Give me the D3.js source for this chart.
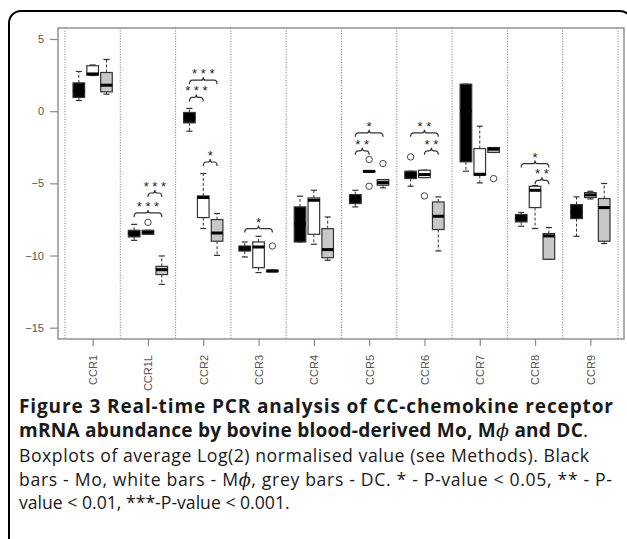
<!DOCTYPE html>
<html><head><meta charset="utf-8">
<script src="https://cdn.jsdelivr.net/npm/d3@7/dist/d3.min.js"></script>
<style>body{margin:0;background:#fff}svg{display:block}</style>
</head><body>
<svg id="chart" width="627" height="539"></svg>
<script>
// ---------------- data ----------------
const categories = ["CCR1","CCR1L","CCR2","CCR3","CCR4","CCR5","CCR6","CCR7","CCR8","CCR9"];
const groups = ["Mo","Mphi","DC"];
const yTicks = [5, 0, -5, -10, -15];
// [lower whisker, Q1, median, Q3, upper whisker] per category
const moStats = [
  [0.74, 0.95, 1.40, 1.96, 2.75],
  [-8.95, -8.71, -8.45, -8.25, -7.84],
  [-1.39, -0.81, -0.45, -0.09, 0.19],
  [-10.10, -9.69, -9.50, -9.34, -9.06],
  [-9.06, -9.06, -7.80, -6.63, -5.89],
  [-6.63, -6.40, -6.10, -5.78, -5.48],
  [-5.20, -4.67, -4.40, -4.16, -4.16],
  [-4.16, -3.51, 0.00, 1.87, 1.87],
  [-7.97, -7.67, -7.40, -7.16, -7.02],
  [-8.67, -7.44, -7.00, -6.47, -5.94]
];
const mphiStats = [
  [2.47, 2.50, 2.58, 3.15, 3.20],
  [-8.53, -8.53, -8.40, -8.25, -8.25],
  [-8.13, -7.37, -5.98, -5.87, -4.32],
  [-11.18, -10.84, -9.41, -9.06, -8.67],
  [-9.22, -8.53, -6.17, -6.01, -5.48],
  [-4.22, -4.22, -4.17, -4.12, -4.12],
  [-4.60, -4.60, -4.39, -4.09, -4.09],
  [-4.97, -4.44, -4.37, -2.59, -1.04],
  [-8.13, -6.68, -5.48, -5.20, -5.15],
  [-6.08, -5.98, -5.80, -5.64, -5.55]
];
const dcStats = [
  [1.18, 1.34, 1.80, 2.68, 3.58],
  [-12.00, -11.32, -10.98, -10.75, -10.03],
  [-9.99, -9.01, -8.44, -7.51, -7.09],
  [-11.12, -11.12, -11.07, -11.02, -11.02],
  [-10.33, -10.15, -9.59, -8.14, -7.33],
  [-5.31, -5.13, -4.95, -4.74, -4.74],
  [-9.68, -8.20, -7.28, -6.29, -5.94],
  [-2.86, -2.86, -2.63, -2.52, -2.52],
  [-10.26, -10.26, -8.64, -8.48, -8.06],
  [-9.17, -9.01, -6.68, -6.05, -5.01]
];
// outliers: [category index, group index, value]
const outliers = [
  [1, 1, -7.70],
  [3, 2, -9.34],
  [5, 1, -3.35], [5, 1, -5.20], [5, 2, -3.63],
  [6, 0, -3.17], [6, 1, -5.87],
  [7, 2, -4.67]
];
// significance brackets: [category index, from group, to group, level, label]
const brackets = [
  [1, 0, 2, -7.05, "***"], [1, 1, 2, -5.67, "***"],
  [2, 0, 1, 0.95, "***"], [2, 0, 2, 2.15, "***"], [2, 1, 2, -3.52, "*"],
  [3, 0, 2, -8.13, "*"],
  [5, 0, 1, -2.75, "**"], [5, 0, 2, -1.50, "*"],
  [6, 0, 2, -1.50, "**"], [6, 1, 2, -2.75, "**"],
  [8, 0, 2, -3.63, "*"], [8, 1, 2, -4.79, "**"]
];
const allStats = [moStats, mphiStats, dcStats];

// ---------------- styles ----------------
const fills = ["#000000", "#ffffff", "#c8c8c8"];
const axisGrey = "#8a8a8a";
const textGrey = "#555555";
const sans = "'Liberation Sans', Arial, sans-serif";

const svg = d3.select("#chart");

// outer rounded frame
svg.append("rect").attr("x", 9).attr("y", 11).attr("width", 623).attr("height", 560)
  .attr("rx", 12).attr("fill", "none").attr("stroke", "#000").attr("stroke-width", 2);

const x = d3.scaleLinear().domain([0.5, 10.5]).range([65, 618]);
const y = d3.scaleLinear().domain([5, -15]).range([39, 327.7]);
const plotL = 58, plotR = 624, plotT = 28, plotB = 339;
const groupOffset = [-0.25, 0, 0.25];
const halfBox = 0.105, halfCap = 0.055;

// separators
svg.append("g").selectAll("line").data(d3.range(0, 11)).join("line")
  .attr("x1", d => x(0.5 + d)).attr("x2", d => x(0.5 + d))
  .attr("y1", plotT).attr("y2", plotB)
  .attr("stroke", "#777").attr("stroke-width", 1).attr("stroke-dasharray", "1,1.6");

// plot frame
svg.append("rect").attr("x", plotL).attr("y", plotT).attr("width", plotR - plotL).attr("height", plotB - plotT)
  .attr("fill", "none").attr("stroke", axisGrey).attr("stroke-width", 1.4);

// y axis
const yAx = svg.append("g").attr("transform", `translate(${plotL},0)`)
  .call(d3.axisLeft(y).tickValues(yTicks).tickSize(8).tickPadding(6).tickFormat(d3.format("d")));
yAx.select(".domain").remove();
yAx.selectAll("line").attr("stroke", axisGrey).attr("stroke-width", 1.2);
yAx.selectAll("text").attr("fill", textGrey).style("font-family", sans).style("font-size", "11px");

// x axis
const xAx = svg.append("g").attr("transform", `translate(0,${plotB})`)
  .call(d3.axisBottom(x).tickValues(d3.range(1, 11)).tickSize(7).tickFormat(i => categories[i - 1]));
xAx.select(".domain").remove();
xAx.selectAll("line").attr("stroke", axisGrey).attr("stroke-width", 1.2);
xAx.selectAll("text").attr("fill", textGrey).style("font-family", sans).style("font-size", "11px")
  .attr("text-anchor", "end").attr("transform", "rotate(-90)")
  .attr("x", -16).attr("y", 0).attr("dy", "0.35em");

// boxes
const boxG = svg.append("g");
allStats.forEach((stats, g) => {
  stats.forEach((s, i) => {
    const c = i + 1 + groupOffset[g];
    const [lo, q1, md, q3, hi] = s;
    const gg = boxG.append("g");
    [[q3, hi], [q1, lo]].forEach(([a, b]) => {
      if (a !== b) gg.append("line").attr("x1", x(c)).attr("x2", x(c)).attr("y1", y(a)).attr("y2", y(b))
        .attr("stroke", "#333").attr("stroke-width", 1).attr("stroke-dasharray", "3,2");
    });
    [hi, lo].forEach(v => gg.append("line").attr("x1", x(c - halfCap)).attr("x2", x(c + halfCap))
      .attr("y1", y(v)).attr("y2", y(v)).attr("stroke", "#333").attr("stroke-width", 1.2));
    gg.append("rect").attr("x", x(c - halfBox)).attr("width", x(c + halfBox) - x(c - halfBox))
      .attr("y", y(q3)).attr("height", Math.max(y(q1) - y(q3), 1.5))
      .attr("fill", fills[g]).attr("stroke", "#333").attr("stroke-width", 1.2);
    gg.append("line").attr("x1", x(c - halfBox)).attr("x2", x(c + halfBox))
      .attr("y1", y(md)).attr("y2", y(md)).attr("stroke", "#000").attr("stroke-width", 3);
  });
});

// outliers
svg.append("g").selectAll("circle").data(outliers).join("circle")
  .attr("cx", d => x(d[0] + 1 + groupOffset[d[1]])).attr("cy", d => y(d[2])).attr("r", 3.2)
  .attr("fill", "none").attr("stroke", "#444").attr("stroke-width", 1);

// brackets
const brG = svg.append("g");
brackets.forEach(([ci, g1, g2, lvl, lab]) => {
  const x1 = x(ci + 1 + groupOffset[g1]), x2 = x(ci + 1 + groupOffset[g2]);
  const yy = y(lvl), xm = (x1 + x2) / 2;
  const p = `M${x1},${yy + 4} Q${x1},${yy} ${x1 + 3},${yy} L${xm - 2},${yy} Q${xm},${yy} ${xm},${yy - 3} ` +
            `Q${xm},${yy} ${xm + 2},${yy} L${x2 - 3},${yy} Q${x2},${yy} ${x2},${yy + 4}`;
  brG.append("path").attr("d", p).attr("fill", "none").attr("stroke", "#333").attr("stroke-width", 1.2);
  brG.append("text").attr("x", xm).attr("y", yy - 2).attr("text-anchor", "middle")
    .style("font-family", sans).style("font-size", "13px").attr("fill", "#222")
    .text(lab.split("").join(" "));
});

// ---------------- caption ----------------
const capX = 19;
const capFont = "'Open Sans', 'Noto Sans', sans-serif";
function addLine(yb, parts, size) {
  const t = svg.append("text").attr("x", capX).attr("y", yb).style("font-family", capFont)
    .style("font-size", size + "px").attr("fill", "#1a1a1a");
  parts.forEach(p => {
    const ts = t.append("tspan").text(p.t).style("font-weight", p.b ? 700 : 400);
    if (p.i) ts.style("font-style", "italic").style("font-family", "'DejaVu Serif', serif");
  });
  return t;
}
const capLines = [
  {y: 413, parts: [{t: "Figure 3 Real-time PCR analysis of CC-chemokine receptor", b: 1}], w: 594, title: 1},
  {y: 437, parts: [{t: "mRNA abundance by bovine blood-derived Mo, M", b: 1}, {t: "ϕ", i: 1}, {t: " and DC", b: 1}, {t: "."}], w: 569, title: 1},
  {y: 462, parts: [{t: "Boxplots of average Log(2) normalised value (see Methods). Black"}], w: 570, title: 0},
  {y: 486, parts: [{t: "bars - Mo, white bars - M"}, {t: "ϕ", i: 1}, {t: ", grey bars - DC. * - P-value < 0.05, ** - P-"}], w: 593, title: 0},
  {y: 509, parts: [{t: "value < 0.01, ***-P-value < 0.001."}], w: 218, title: 0}
];
const sizes = {};
[1, 0].forEach(tt => {
  const ls = capLines.filter(l => l.title === tt);
  let num = 0, den = 0;
  ls.forEach(l => {
    const t = addLine(-100, l.parts, 100);
    num += l.w; den += t.node().getComputedTextLength() / 100;
    t.remove();
  });
  sizes[tt] = (num / den) * (tt ? 0.95 : 0.98);
});
capLines.forEach(l => {
  const t = addLine(l.y, l.parts, sizes[l.title]);
  const w = t.node().getComputedTextLength();
  if (Math.abs(w - l.w) / l.w < 0.09) t.attr("textLength", l.w).attr("lengthAdjust", "spacing");
});
</script>
</body></html>
